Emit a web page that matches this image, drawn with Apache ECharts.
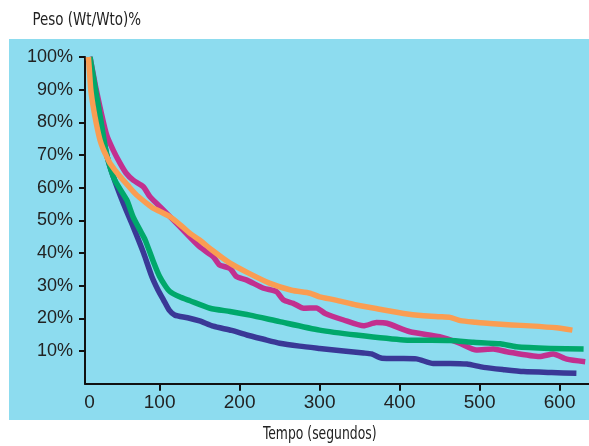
<!DOCTYPE html>
<html>
<head>
<meta charset="utf-8">
<script src="https://cdn.jsdelivr.net/npm/echarts@6/dist/echarts.min.js"></script>
<style>html,body{margin:0;padding:0;background:#fff;}#c{width:589px;height:446px;}</style>
</head>
<body>
<div id="c"></div>
<script>
// ---- data (time in seconds, weight in %) ----
const navyT = [12,20,27,34,42,55,67,80,90,98,105,112,119,135,150,167,190,209,230,250,275,300,330,355,365,378,400,421,442,463,484,505,530,555,590,621];
const navyV = [100,89,79,70,63.5,55,48,40,33,28.7,25.6,22.5,21,20.2,19.2,17.6,16.3,14.9,13.6,12.4,11.5,10.8,10,9.4,9.1,7.8,7.7,7.6,6.2,6.2,6.0,5.0,4.3,3.7,3.4,3.2];

const greenT = [13,20,27,34,44,59,67,75.5,82,92,100,107,113,125,138,163,188,213,250,300,346,405,463,492,526,546,588,630];
const greenV = [100,90,80,70,62.3,56.2,51,47,44,37.5,32.8,30,28.2,26.6,25.4,23.1,22.1,21,19,16.4,14.9,13.4,13.2,12.7,12.2,11.3,10.8,10.6];

const magentaT = [13,20,27,34,42,50.5,58,67,79.6,88,104.6,125.5,150,167,175,188,196,209,230,246,255,267,280,296,307,330,355,371,384,413,450,475,496,517,534,575,592,609,632];
const magentaV = [100,91,83,76,71.5,67.5,64.5,62.3,60.3,57.2,53.2,48,41.9,38.9,36.3,35.3,32.8,31.7,29.2,28.2,25.6,24.6,23.1,23.2,21.5,19.5,17.7,18.7,18.5,15.9,14.4,12.4,10.3,10.6,9.8,8.3,9.1,7.5,6.7];

const orangeT = [11,12.5,14,17,21,25.5,29.5,33.9,38,50.5,60,71,84,92,100,113,125,138,150,165,188,210,238,265,288,300,320,346,375,405,430,450,463,476,495,513,540,563,596,616];
const orangeV = [100,95,90,84.8,79.5,74.6,71.8,69.5,67.5,63.4,60.8,57.8,55.2,53.7,52.8,51.1,48.8,46,44,41,36.9,34,30.7,28.6,27.7,26.6,25.6,24.1,22.8,21.5,20.8,20.5,20.3,19.3,18.8,18.4,18,17.7,17.1,16.4];

const xTickValues = [100,200,300,400,500,600];
const xTickLabels = ['0','100','200','300','400','500','600'];
const yTickValues = [10,20,30,40,50,60,70,80,90,100];
const titleText = 'Peso (Wt/Wto)%';
const xNameText = 'Tempo (segundos)';

const pair = (t, v) => t.map((x, i) => [x, v[i]]);

const chart = echarts.init(document.getElementById('c'), null, {renderer: 'canvas'});
const axisColor = '#111';
const labelFont = '"Liberation Sans", Arial, sans-serif';
const condFont = '"DejaVu Sans Condensed", "DejaVu Sans", sans-serif';

function mkSeries(name, t, v, color, z) {
  return {
    name, type: 'line', data: pair(t, v), showSymbol: false, smooth: 0.2, z,
    lineStyle: {color, width: 5.5, join: 'round'}, animation: false
  };
}

const xLabelPos = [12.4].concat(xTickValues);

chart.setOption({
  animation: false,
  backgroundColor: '#ffffff',
  graphic: [
    {type: 'rect', z: -10, silent: true,
     shape: {x: 9, y: 39, width: 580, height: 381},
     style: {fill: '#8ddcef'}},
    {type: 'text', x: 32.5, y: 20, scaleX: 0.83, silent: true,
     style: {text: titleText, fontFamily: condFont, fontSize: 18, fill: '#222',
             textAlign: 'left', textVerticalAlign: 'middle'}},
    {type: 'text', x: 263, y: 434.5, scaleX: 0.81, silent: true,
     style: {text: xNameText, fontFamily: condFont, fontSize: 17, fill: '#222',
             textAlign: 'left', textVerticalAlign: 'middle'}}
  ],
  grid: {left: 85, right: 0, top: 57, bottom: 62.3, containLabel: false},
  xAxis: {
    type: 'value', min: 6.75, max: 636.75,
    axisLine: {show: true, lineStyle: {color: axisColor, width: 2}},
    axisTick: {show: true, customValues: xTickValues, length: 7, lineStyle: {color: axisColor, width: 2}},
    axisLabel: {customValues: xLabelPos, margin: 10, fontSize: 19, fontFamily: labelFont, color: '#222',
      formatter: (v) => v < 50 ? xTickLabels[0] : xTickLabels[xTickValues.indexOf(v) + 1]},
    splitLine: {show: false}
  },
  yAxis: {
    type: 'value', min: 0, max: 100,
    axisLine: {show: true, lineStyle: {color: axisColor, width: 2}},
    axisTick: {show: true, customValues: yTickValues, length: 6, lineStyle: {color: axisColor, width: 2}},
    axisLabel: {customValues: yTickValues, margin: 12, fontSize: 18, fontFamily: labelFont, color: '#222',
      formatter: (v) => v + '%'},
    splitLine: {show: false}
  },
  series: [
    mkSeries('A', navyT, navyV, '#3a3896', 1),
    mkSeries('B', magentaT, magentaV, '#c2308f', 2),
    mkSeries('C', greenT, greenV, '#00a86b', 3),
    mkSeries('D', orangeT, orangeV, '#fa9d52', 4)
  ]
});
</script>
</body>
</html>
